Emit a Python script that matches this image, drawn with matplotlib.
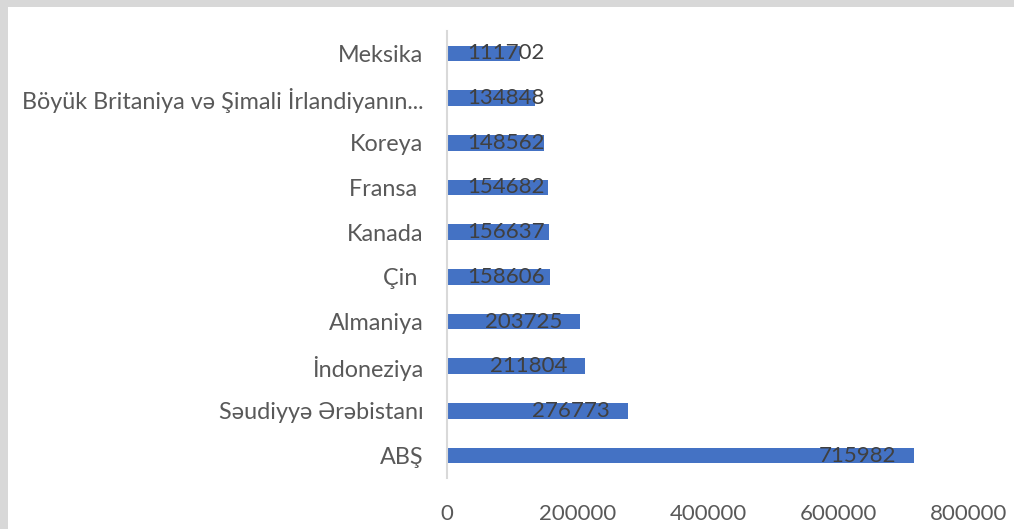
import matplotlib
matplotlib.use("Agg")
import matplotlib.pyplot as plt
from matplotlib.patches import Rectangle

# countries (top to bottom as shown) and their values
countries = ["Meksika", "Böyük Britaniya və Şimali İrlandiyanın...", "Koreya", "Fransa ",
             "Kanada", "Çin ", "Almaniya", "İndoneziya", "Səudiyyə Ərəbistanı", "ABŞ"]
values = [111702, 134848, 148562, 154682, 156637, 158606, 203725, 211804, 276773, 715982]
xticks = [0, 200000, 400000, 600000, 800000]

plt.rcParams['font.family'] = ['Lato', 'DejaVu Sans']

W, H = 1014, 529
fig = plt.figure(figsize=(W / 100, H / 100), dpi=100)
fig.patch.set_facecolor("#d8d8d8")
# white card over the textured edge
card = Rectangle((8 / W, 0), 1, 1 - 7 / H, transform=fig.transFigure,
                 facecolor="white", edgecolor="none", zorder=-1)
fig.add_artist(card)

ax = fig.add_axes([447 / W, (H - 478) / H, (969 - 447) / W, (478 - 31) / H])
ax.set_facecolor("none")
ax.set_zorder(2)

# reverse so the first country ends up on top
ypos = list(range(len(countries)))[::-1]
ax.barh(ypos, values, height=0.35, color="#4472C4")

ax.set_xlim(0, 800000)
ax.set_ylim(-0.5, len(countries) - 0.5)
ax.set_yticks(ypos)
ax.set_yticklabels(countries, fontsize=16.8, color="#595959")
ax.set_xticks(xticks)
ax.set_xticklabels([str(t) for t in xticks], fontsize=16, color="#595959")
ax.tick_params(axis="y", length=0, pad=17)
ax.tick_params(axis="x", length=0, pad=19)

for s in ["top", "right", "bottom"]:
    ax.spines[s].set_visible(False)
ax.spines["left"].set_color("#d9d9d9")
ax.spines["left"].set_linewidth(1.5)

# data labels: inside end, but never closer than 20px to the axis
fig.canvas.draw()
renderer = fig.canvas.get_renderer()
x0 = ax.transData.transform((0, 0))[0]
for y, v in zip(ypos, values):
    t = ax.text(0, y, str(v), fontsize=16, color="#404040", ha="left", va="center")
    w = t.get_window_extent(renderer).width
    end = ax.transData.transform((v, y))[0]
    left = max(end - 18 - w, x0 + 20)
    t.set_x(ax.transData.inverted().transform((left, 0))[0])

fig.savefig("out.png", dpi=100)
